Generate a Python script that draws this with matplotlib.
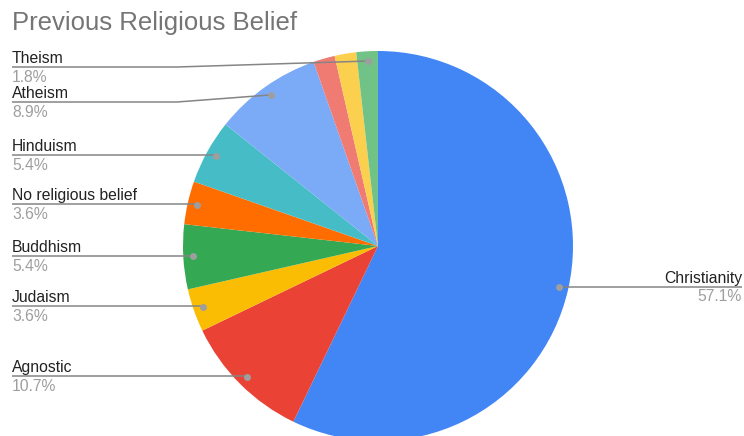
import matplotlib
matplotlib.use("Agg")
import matplotlib.pyplot as plt
import numpy as np

plt.rcParams['font.family'] = ['Liberation Sans', 'DejaVu Sans']

title = "Previous Religious Belief"
categories = ["Christianity", "Agnostic", "Judaism", "Buddhism", "No religious belief",
              "Hinduism", "Atheism", "Unlabeled A", "Unlabeled B", "Theism"]
counts = [32, 6, 2, 3, 2, 3, 5, 1, 1, 1]
colors = ["#4285F4", "#EA4335", "#FBBC04", "#34A853", "#FF6D01",
          "#46BDC6", "#7BAAF7", "#F07B72", "#FCD04F", "#71C287"]

# layout (pixel units, y from top)
W, H = 744, 436
CX, CY, R = 378, 246, 195
# label line y, side, knee x (None = straight)
label_layout = {
    "Theism": (67, "left", 177),
    "Atheism": (102, "left", 177),
    "Hinduism": (155, "left", None),
    "No religious belief": (204, "left", None),
    "Buddhism": (256, "left", None),
    "Judaism": (306, "left", None),
    "Agnostic": (376, "left", None),
    "Christianity": (287, "right", None),
}

fig = plt.figure(figsize=(W / 100, H / 100), dpi=100)
ax = fig.add_axes([0, 0, 1, 1])

def Y(y):
    return H - y

ax.pie(counts, colors=colors, startangle=90, counterclock=False,
       center=(CX, Y(CY)), radius=R, wedgeprops=dict(linewidth=0))
ax.set_xlim(0, W)
ax.set_ylim(0, H)
ax.set_aspect('equal')
ax.axis('off')

total = sum(counts)
cum = np.cumsum([0] + counts)
line_col = "#858585"
for i, name in enumerate(categories):
    if name not in label_layout:
        continue
    frac_mid = (cum[i] + counts[i] / 2) / total
    ang = 2 * np.pi * frac_mid
    dx = CX + 0.95 * R * np.sin(ang)
    dy = CY - 0.95 * R * np.cos(ang)
    ly, side, knee = label_layout[name]
    pct = f"{counts[i] / total * 100:.1f}%"
    if side == "left":
        if knee is None:
            xs, ys = [12, dx], [ly, ly]
        else:
            xs, ys = [12, knee, dx], [ly, ly, dy]
        ax.plot(xs, [Y(v) for v in ys], color=line_col, lw=1.1, solid_capstyle='butt')
        ax.text(12, Y(ly - 4), name, fontsize=11.3, color="#222222", ha='left', va='baseline')
        ax.text(12, Y(ly + 15), pct, fontsize=11.3, color="#9e9e9e", ha='left', va='baseline')
    else:
        ax.plot([dx, 742], [Y(ly), Y(ly)], color=line_col, lw=1.1, solid_capstyle='butt')
        ax.text(742, Y(ly - 4), name, fontsize=11.3, color="#222222", ha='right', va='baseline')
        ax.text(742, Y(ly + 14), pct, fontsize=11.3, color="#9e9e9e", ha='right', va='baseline')
    ax.plot([dx], [Y(dy)], 'o', color="#9e9e9e", markersize=5, markeredgewidth=0)

fig.text(12 / W, 1 - 30 / H, title, fontsize=18.5, color="#757575", ha='left', va='baseline')

fig.savefig("out.png", dpi=100)
